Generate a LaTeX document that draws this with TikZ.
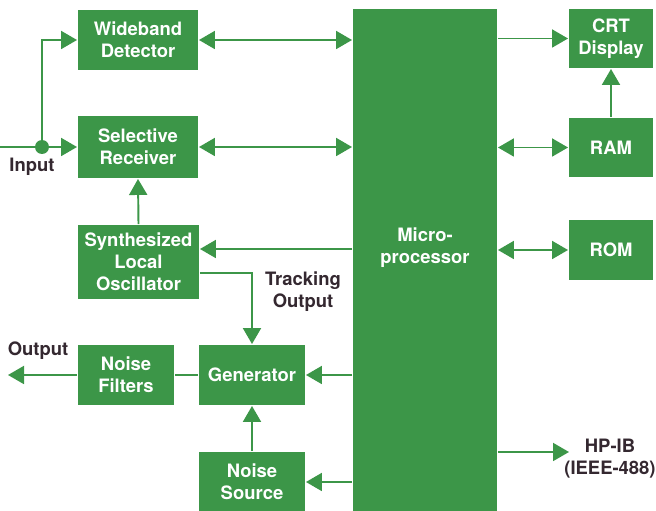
\documentclass[tikz,border=0pt]{standalone}
\usepackage{fontspec}
\setmainfont{TeX Gyre Heros}
\usepackage{xcolor}
\usetikzlibrary{arrows.meta, calc}
\definecolor{hpgreen}{RGB}{60,150,72}
\definecolor{ink}{RGB}{52,40,48}

\begin{document}
\begin{tikzpicture}[>={Triangle[length=3.2mm, width=3.6mm]}, line width=1.1pt,
    every node/.style={font=\fontsize{10.5}{12.5}\selectfont\bfseries},
    block/.style={fill=hpgreen, text=white, align=center, inner sep=0pt},
    wire/.style={draw=hpgreen, color=hpgreen},
    lbl/.style={text=ink, align=center}]
  \useasboundingbox (0,0) rectangle (13.12,-10.22);
  % left column
  \node[block, minimum width=2.4cm, minimum height=1.2cm] (wide) at (2.76,-0.80) {Wideband\\Detector};
  \node[block, minimum width=2.4cm, minimum height=1.24cm] (sel) at (2.76,-2.94) {Selective\\Receiver};
  \node[block, minimum width=2.42cm, minimum height=1.48cm] (synth) at (2.77,-5.24) {Synthesized\\Local\\Oscillator};
  \node[block, minimum width=1.92cm, minimum height=1.2cm] (filt) at (2.52,-7.50) {Noise\\Filters};
  \node[block, minimum width=2.12cm, minimum height=1.2cm] (gen) at (5.04,-7.50) {Generator};
  \node[block, minimum width=2.12cm, minimum height=1.2cm] (src) at (5.04,-9.64) {Noise\\Source};
  % processor and right column
  \node[block, minimum width=2.88cm, minimum height=10.04cm] (micro) at (8.50,-5.20) {};
  \node[block, fill=none] (microtxt) at (8.50,-4.96) {Micro-\\processor};
  \node[block, minimum width=1.68cm, minimum height=1.18cm] (crt) at (12.22,-0.77) {CRT\\Display};
  \node[block, minimum width=1.68cm, minimum height=1.18cm] (ram) at (12.22,-2.95) {RAM};
  \node[block, minimum width=1.68cm, minimum height=1.2cm] (rom) at (12.22,-5.00) {ROM};
  % labels
  \node[lbl] (inlbl) at (0.64,-3.34) {Input};
  \node[lbl] (outlbl) at (0.76,-7.02) {Output};
  \node[lbl] (trklbl) at (6.06,-5.84) {Tracking\\Output};
  \node[lbl] (hpib) at (12.20,-9.18) {HP-IB\\(IEEE-488)};
  \coordinate (in) at (0,-2.94);
  \coordinate (out) at (0.16,-7.50);
  \coordinate (bus) at (11.38,-9.04);
  % input split
  \fill[hpgreen] (0.84,-2.94) circle (0.14) coordinate (split);
  \draw[wire, ->] (in) -- (sel.west);
  \draw[wire, ->] (split) |- (wide.west);
  % links to the processor
  \draw[wire, <->] (wide.east) -- (wide.east -| micro.west);
  \draw[wire, <->] (sel.east) -- (sel.east -| micro.west);
  \draw[wire, ->] ($(micro.west |- synth.east)+(0,0.26)$) -- ($(synth.east)+(0,0.26)$);
  \draw[wire, ->] (synth.north) -- (sel.south);
  \draw[wire, ->] ($(synth.east)+(0,-0.22)$) -| (gen.north);
  \draw[wire, ->] (micro.west |- gen.east) -- (gen.east);
  \draw[wire] (gen.west) -- (filt.east);
  \draw[wire, ->] (filt.west) -- (out);
  \draw[wire, ->] (src.north) -- (gen.south);
  \draw[wire, ->] (micro.west |- src.east) -- (src.east);
  \draw[wire, ->] (micro.east |- crt.west) -- (crt.west);
  \draw[wire, ->] (ram.north) -- (crt.south);
  \draw[wire, <->] (micro.east |- ram.west) -- (ram.west);
  \draw[wire, <->] (micro.east |- rom.west) -- (rom.west);
  \draw[wire, ->] (micro.east |- bus) -- (bus);
\end{tikzpicture}
\end{document}
